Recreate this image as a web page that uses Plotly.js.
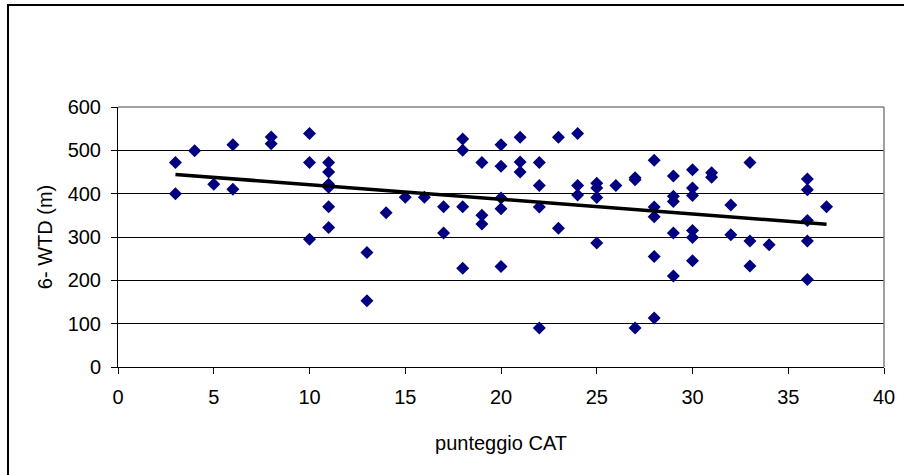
<!DOCTYPE html>
<html>
<head>
<meta charset="utf-8">
<script src="https://cdn.plot.ly/plotly-3.0.1.min.js"></script>
<style>
  html, body { margin: 0; padding: 0; background: #fff; }
  #wrap { position: relative; width: 904px; height: 475px; overflow: hidden; }
  #chart { position: absolute; left: 0; top: 0; width: 904px; height: 475px; }
  #frame { position: absolute; left: 7px; top: 4px; width: 1200px; height: 1200px;
           border-top: 2px solid #000; border-left: 2px solid #000; pointer-events: none; }
</style>
</head>
<body>
<div id="wrap">
  <div id="chart"></div>
  <div id="frame"></div>
</div>
<script>
// punteggio CAT (x) and 6- WTD in metres (y)
const catScore = [
  3, 3,
  4,
  5,
  6, 6,
  8, 8,
  10, 10, 10,
  11, 11, 11, 11, 11, 11,
  13, 13,
  14,
  15,
  16,
  17, 17,
  18, 18, 18, 18,
  19, 19, 19,
  20, 20, 20, 20, 20,
  21, 21, 21,
  22, 22, 22, 22,
  23, 23,
  24, 24, 24,
  25, 25, 25, 25,
  26,
  27, 27, 27,
  28, 28, 28, 28, 28,
  29, 29, 29, 29, 29,
  30, 30, 30, 30, 30, 30,
  31, 31,
  32, 32,
  33, 33, 33,
  34,
  36, 36, 36, 36, 36,
  37
];
const wtdMeters = [
  472, 400,
  499,
  422,
  513, 410,
  531, 515,
  539, 472, 295,
  472, 450, 422, 415, 370, 322,
  264, 153,
  356,
  392,
  392,
  370, 309,
  526, 500, 370, 228,
  472, 350, 330,
  513, 463, 390, 365, 232,
  530, 473, 450,
  472, 419, 369, 90,
  530, 320,
  539, 419, 397,
  424, 413, 391, 286,
  419,
  437, 432, 90,
  477, 369, 347, 255, 113,
  441, 394, 382, 309, 210,
  455, 413, 396, 315, 299, 245,
  448, 438,
  374, 305,
  472, 291, 233,
  282,
  434, 409, 338, 291, 202,
  370
];
const xTickVals = [0, 5, 10, 15, 20, 25, 30, 35, 40];
const yTickVals = [0, 100, 200, 300, 400, 500, 600];

// Linear least-squares trend line computed from the data
const n = catScore.length;
let sx = 0, sy = 0, sxx = 0, sxy = 0;
for (let i = 0; i < n; i++) {
  sx += catScore[i]; sy += wtdMeters[i];
  sxx += catScore[i] * catScore[i]; sxy += catScore[i] * wtdMeters[i];
}
const slope = (n * sxy - sx * sy) / (n * sxx - sx * sx);
const intercept = (sy - slope * sx) / n;
const xMin = Math.min(...catScore), xMax = Math.max(...catScore);
const trendX = [xMin, xMax];
const trendY = trendX.map(v => intercept + slope * v);

const font = 'Liberation Sans, Arial, sans-serif';

const data = [
  {
    type: 'scatter', mode: 'markers',
    x: catScore, y: wtdMeters,
    marker: { symbol: 'diamond', size: 10, color: '#000080', line: { width: 0 } },
    showlegend: false, hoverinfo: 'x+y', cliponaxis: false
  },
  {
    type: 'scatter', mode: 'lines',
    x: trendX, y: trendY,
    line: { color: '#000000', width: 3.5 },
    showlegend: false, hoverinfo: 'skip'
  }
];

const layout = {
  width: 904, height: 475,
  margin: { l: 118, r: 20, t: 107, b: 108, pad: 0 },
  paper_bgcolor: '#ffffff', plot_bgcolor: '#ffffff',
  font: { family: font, size: 20, color: '#000000' },
  showlegend: false,
  xaxis: {
    range: [0, 40], tickvals: xTickVals, ticktext: xTickVals.map(String),
    showgrid: false, zeroline: false,
    showline: true, linecolor: '#000000', linewidth: 1,
    ticks: 'outside', ticklen: 6, tickwidth: 1, tickcolor: '#000000',
    tickfont: { family: font, size: 20, color: '#000000' },
    ticklabelstandoff: 6,
    title: { text: 'punteggio CAT', font: { family: font, size: 20, color: '#000000' }, standoff: 28 },
    fixedrange: true
  },
  yaxis: {
    range: [0, 600], tickvals: yTickVals, ticktext: yTickVals.map(String),
    showgrid: true, gridcolor: '#000000', gridwidth: 1,
    zeroline: false,
    showline: true, linecolor: '#000000', linewidth: 1,
    ticks: 'outside', ticklen: 6, tickwidth: 1, tickcolor: '#000000',
    tickfont: { family: font, size: 20, color: '#000000' },
    ticklabelstandoff: 6,
    title: { text: '6- WTD (m)', font: { family: font, size: 20, color: '#000000' }, standoff: 9 },
    fixedrange: true
  },
  shapes: [
    { type: 'line', xref: 'paper', yref: 'paper', x0: 0, x1: 1, y0: 1, y1: 1,
      line: { color: '#808080', width: 1.5 }, layer: 'above' },
    { type: 'line', xref: 'paper', yref: 'paper', x0: 1, x1: 1, y0: 0, y1: 1,
      line: { color: '#808080', width: 1.5 }, layer: 'above' }
  ]
};

Plotly.newPlot('chart', data, layout, { displayModeBar: false, staticPlot: true });
</script>
</body>
</html>
